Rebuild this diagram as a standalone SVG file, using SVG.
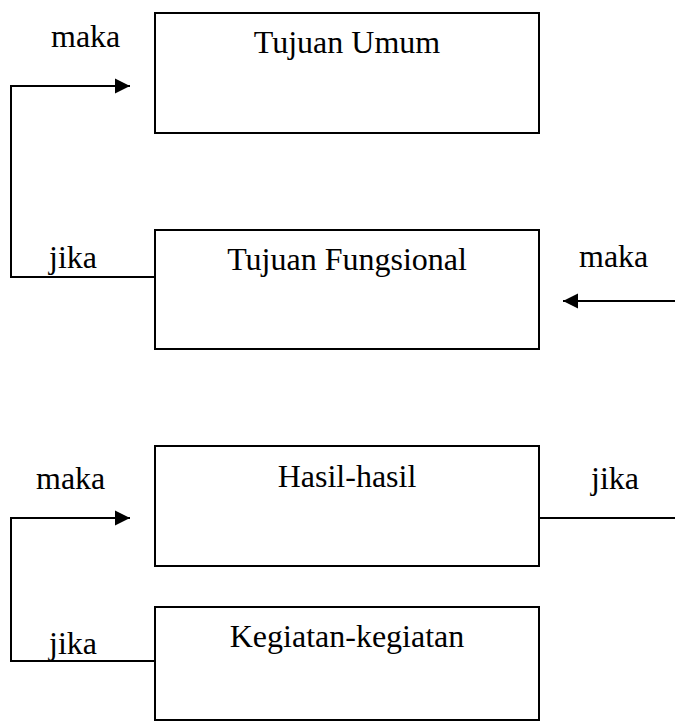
<svg xmlns="http://www.w3.org/2000/svg" width="675" height="722" viewBox="0 0 675 722">
  <style>
    .box { fill: #fff; stroke: #000; stroke-width: 2; }
    .line { fill: none; stroke: #000; stroke-width: 2; }
    .title { font-family: "Liberation Serif", "Times New Roman", serif; font-size: 32px; fill: #000; text-anchor: middle; }
    .lbl { font-family: "Liberation Serif", "Times New Roman", serif; font-size: 32px; fill: #000; }
  </style>
  <defs>
    <marker id="arrow" markerUnits="userSpaceOnUse" markerWidth="16" markerHeight="16" viewBox="0 0 16 16" refX="15" refY="8" orient="auto">
      <path d="M0,0.5 L15,8 L0,15.5 Z" fill="#000"/>
    </marker>
  </defs>
  <rect width="675" height="722" fill="#fff"/>

  <g id="connectors">
    <!-- Tujuan Fungsional -> Tujuan Umum -->
    <polyline class="line" points="155,277 11,277 11,86 130,86" marker-end="url(#arrow)"/>
    <!-- incoming from the right into Tujuan Fungsional -->
    <line class="line" x1="675" y1="301" x2="563" y2="301" marker-end="url(#arrow)"/>
    <!-- Kegiatan-kegiatan -> Hasil-hasil -->
    <polyline class="line" points="155,661 11,661 11,518 130,518" marker-end="url(#arrow)"/>
    <!-- outgoing to the right from Hasil-hasil -->
    <line class="line" x1="539" y1="518" x2="675" y2="518"/>
    <text class="lbl" x="51" y="47">maka</text>
    <text class="lbl" x="49" y="268">jika</text>
    <text class="lbl" x="579" y="267">maka</text>
    <text class="lbl" x="36" y="489">maka</text>
    <text class="lbl" x="591" y="489">jika</text>
    <text class="lbl" x="49" y="654">jika</text>
  </g>

  <g id="tujuan-umum">
    <rect class="box" x="155" y="13" width="384" height="120"/>
    <text class="title" x="347" y="53">Tujuan Umum</text>
  </g>
  <g id="tujuan-fungsional">
    <rect class="box" x="155" y="230" width="384" height="119"/>
    <text class="title" x="347" y="270">Tujuan Fungsional</text>
  </g>
  <g id="hasil-hasil">
    <rect class="box" x="155" y="446" width="384" height="120"/>
    <text class="title" x="347" y="487">Hasil-hasil</text>
  </g>
  <g id="kegiatan-kegiatan">
    <rect class="box" x="155" y="607" width="384" height="113"/>
    <text class="title" x="347" y="647">Kegiatan-kegiatan</text>
  </g>
</svg>
